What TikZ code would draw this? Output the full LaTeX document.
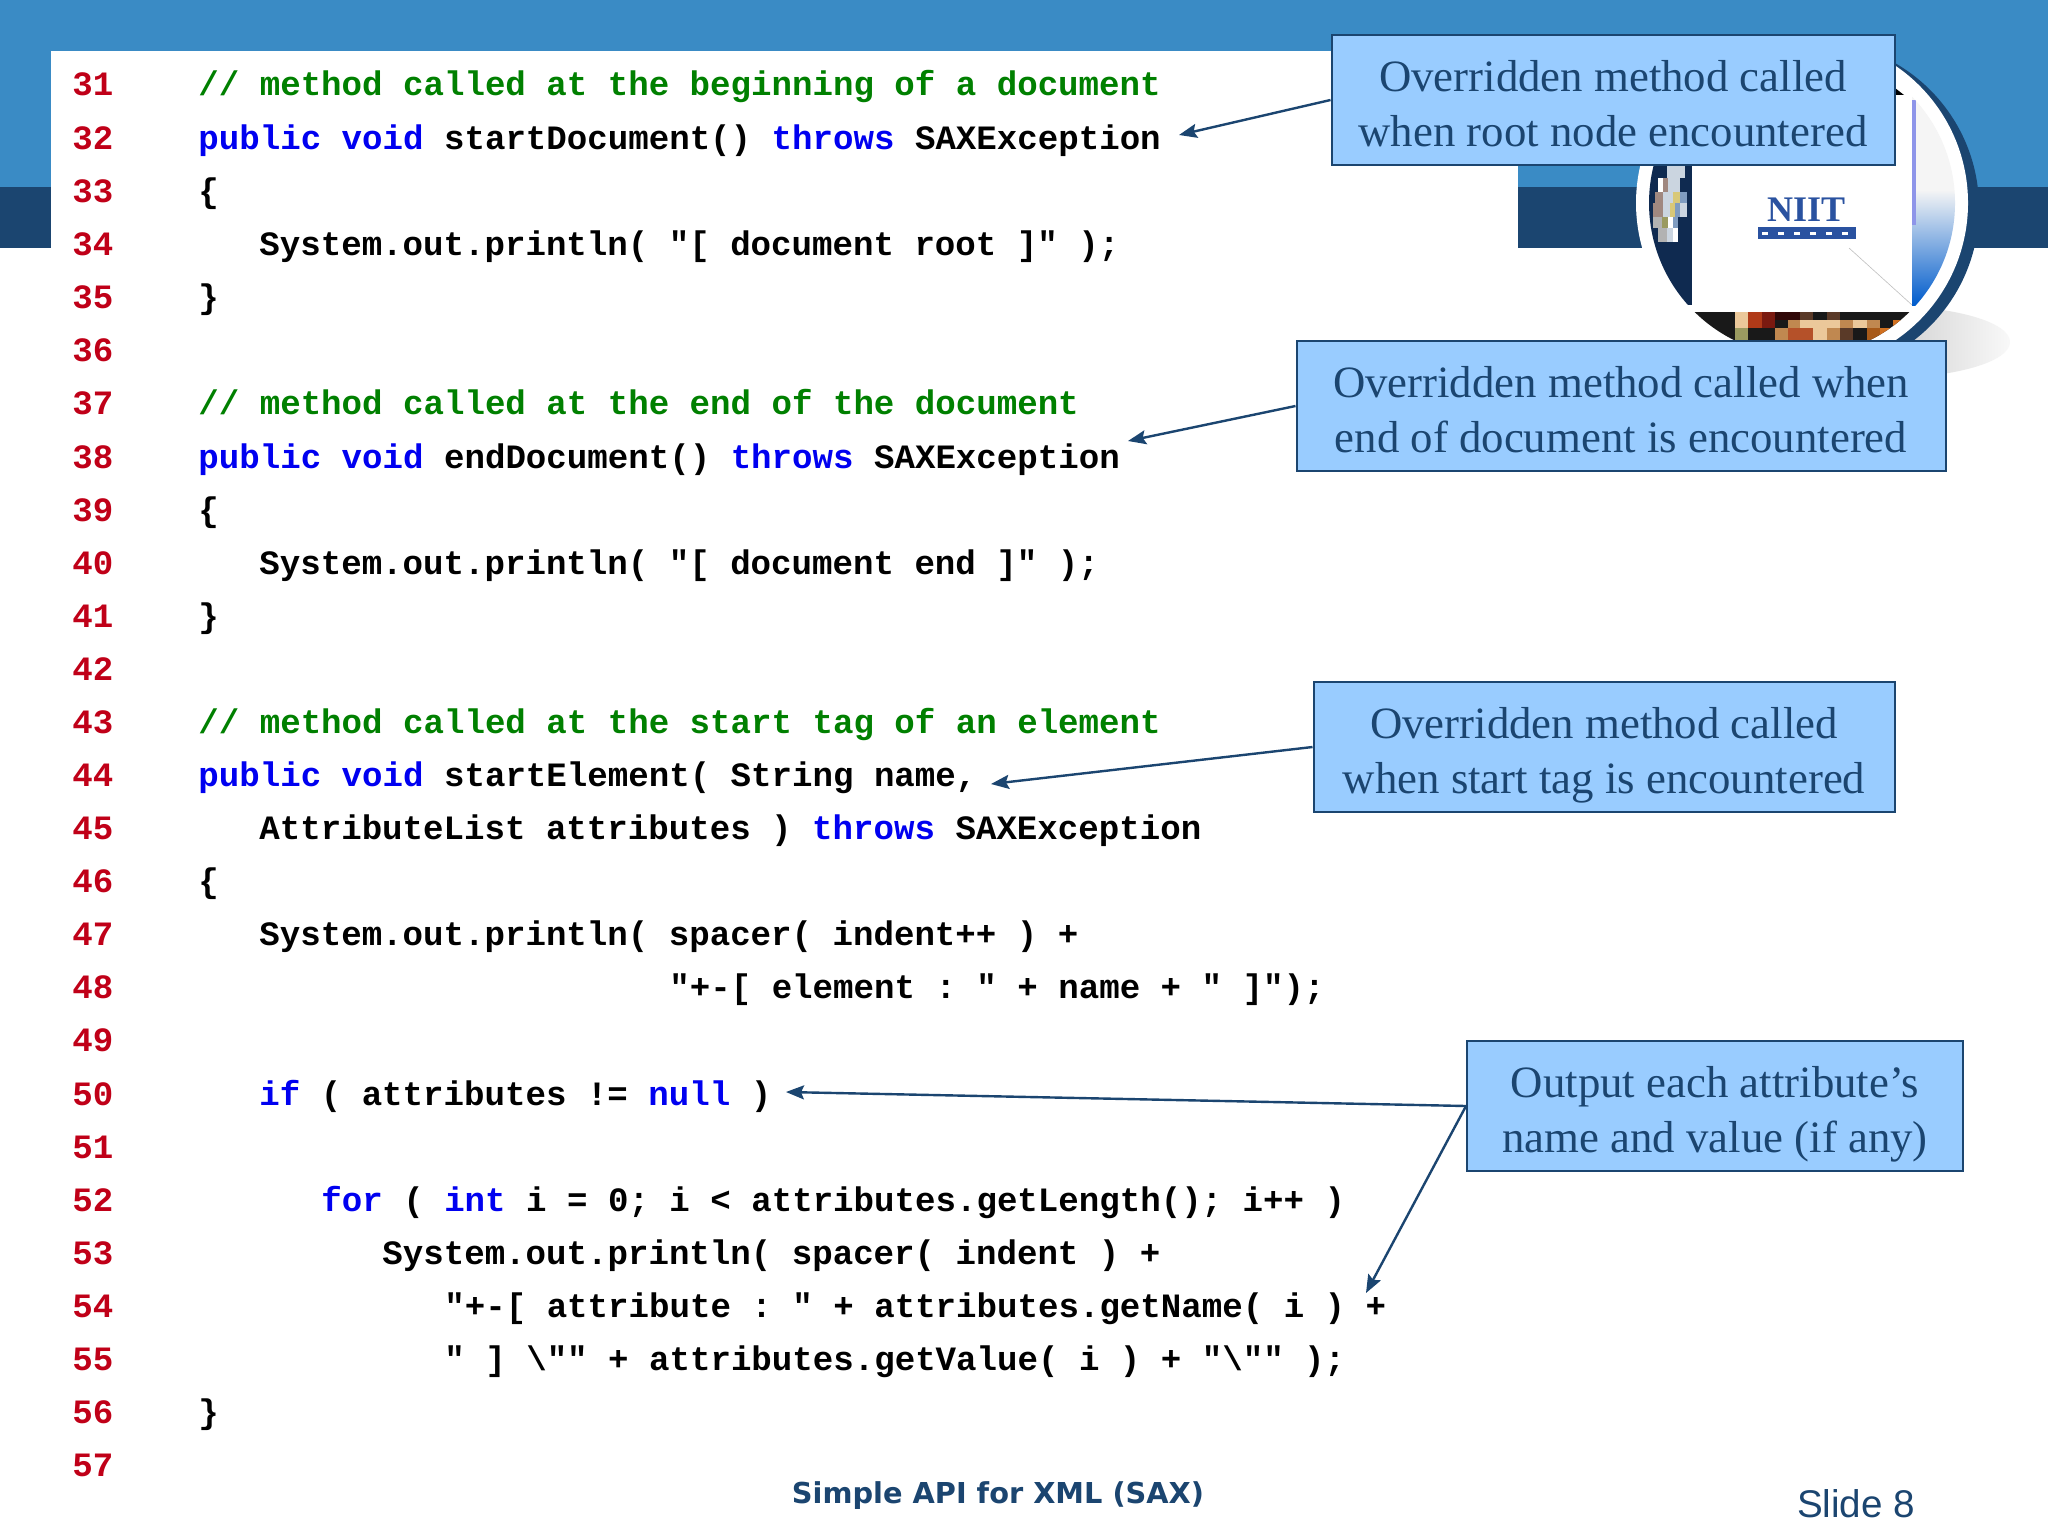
\documentclass[tikz,border=0pt]{standalone}
\usepackage{fontspec}
\setmainfont{Liberation Serif}
\setmonofont{Liberation Mono}
\newfontfamily\footfont{DejaVu Sans}
\newfontfamily\slidefont{Liberation Sans}
\usetikzlibrary{arrows.meta}
\definecolor{bandblue}{HTML}{3A8BC5}
\definecolor{navy}{HTML}{1B4570}
\definecolor{notefill}{HTML}{99CCFF}
\definecolor{numred}{HTML}{C00018}
\definecolor{kwblue}{HTML}{0000F0}
\definecolor{cmgreen}{HTML}{008000}
\definecolor{logoblue}{HTML}{2A52A0}
\definecolor{deepnavy}{HTML}{0F2A50}
\definecolor{pale}{HTML}{CBD5E0}
\definecolor{taupe}{HTML}{A08880}
\definecolor{khaki}{HTML}{D8C878}
\definecolor{olive}{HTML}{9A9A60}
\definecolor{steel}{HTML}{7F9CC0}
\definecolor{cream}{HTML}{EBC89A}
\definecolor{rust}{HTML}{B03A18}
\definecolor{darkred}{HTML}{7A1A10}
\definecolor{maroon}{HTML}{300808}
\definecolor{umber}{HTML}{5A3A28}
\definecolor{tan}{HTML}{C08850}
\definecolor{amber}{HTML}{D07020}
\newcommand{\kw}[1]{\textcolor{kwblue}{#1}}
\newcommand{\notetop}{\rule{0pt}{24pt}}
\newcommand{\noteend}{\rule[-5pt]{0pt}{5pt}}
\tikzset{
  linenum/.style={anchor=base west,inner sep=0pt,text=numred,font=\ttfamily\bfseries\fontsize{17.06}{20}\selectfont},
  codeline/.style={anchor=base west,inner sep=0pt,text=black,font=\ttfamily\bfseries\fontsize{17.06}{20}\selectfont},
  comment/.style={codeline,text=cmgreen},
  notebox/.style={draw=navy,line width=1pt,fill=notefill,text=navy,align=center,inner sep=0pt,
    font=\fontsize{22.4}{27.5}\selectfont},
  notearrow/.style={draw=navy,line width=1.2pt,-{Stealth[length=9pt,width=7pt,inset=1.5pt]}},
}
\begin{document}
\begin{tikzpicture}
\begin{scope}[x=.5pt,y=-.5pt]
\useasboundingbox (0,0) rectangle (2048,1536);
\fill[white] (0,0) rectangle (2048,1536);
\fill[bandblue] (0,0) rectangle (2048,187);
\fill[navy] (0,187) rectangle (2048,248);
\fill[white] (51,51) rectangle (1518,1536);
\shade[left color=gray!70,middle color=gray!40,right color=gray!5] (1885,342) ellipse [x radius=125,y radius=36];
\fill[navy] (1812,208) circle [radius=167];
\fill[white] (1802,203) circle [radius=166];
\begin{scope}
\clip (1802,203) circle [radius=153];
\fill[deepnavy] (1645,160) rectangle (1692,305);
\fill[white] (1692,50) rectangle (1912,305);
\fill[gray!8] (1912,50) rectangle (1960,190);
\shade[top color=gray!8,bottom color=blue!55!cyan!80!black] (1912,190) rectangle (1960,305);
\fill[pale!70!blue] (1912,100) rectangle (1916,225);
\fill[pale] (1667,165) rectangle (1685,178);
\fill[white] (1658,178) rectangle (1663,192);
\fill[taupe] (1663,178) rectangle (1668,192);
\fill[pale] (1668,178) rectangle (1680,192);
\fill[taupe] (1655,192) rectangle (1663,203);
\fill[pale] (1663,192) rectangle (1673,203);
\fill[khaki] (1673,192) rectangle (1680,203);
\fill[steel] (1680,192) rectangle (1687,203);
\fill[taupe] (1653,203) rectangle (1663,217);
\fill[pale] (1663,203) rectangle (1670,217);
\fill[khaki] (1670,203) rectangle (1675,217);
\fill[steel] (1675,203) rectangle (1680,217);
\fill[pale] (1680,203) rectangle (1687,217);
\fill[gray!60] (1653,217) rectangle (1662,228);
\fill[olive] (1662,217) rectangle (1668,228);
\fill[white] (1668,217) rectangle (1673,228);
\fill[steel] (1673,217) rectangle (1678,228);
\fill[gray!60] (1658,228) rectangle (1667,242);
\fill[pale] (1667,228) rectangle (1673,242);
\fill[white] (1673,228) rectangle (1678,242);
\fill[black!90] (1640,312) rectangle (1960,360);
\fill[maroon] (1775,312) rectangle (1800,320);
\fill[umber] (1800,312) rectangle (1813,320);
\fill[umber] (1827,312) rectangle (1840,320);
\fill[cream] (1735,312) rectangle (1748,328);
\fill[rust] (1748,312) rectangle (1762,328);
\fill[darkred] (1762,312) rectangle (1775,328);
\fill[tan] (1788,320) rectangle (1800,328);
\fill[cream] (1800,320) rectangle (1840,328);
\fill[tan] (1840,320) rectangle (1853,328);
\fill[cream] (1853,320) rectangle (1867,328);
\fill[tan] (1867,320) rectangle (1880,328);
\fill[amber] (1893,320) rectangle (1907,328);
\fill[olive] (1735,328) rectangle (1748,345);
\fill[tan] (1775,328) rectangle (1788,345);
\fill[rust!70!tan] (1788,328) rectangle (1813,345);
\fill[cream] (1813,328) rectangle (1827,345);
\fill[tan] (1827,328) rectangle (1840,345);
\fill[umber] (1840,328) rectangle (1853,345);
\fill[amber!80!black] (1867,328) rectangle (1880,345);
\fill[amber] (1880,328) rectangle (1893,345);
\end{scope}
\fill[black] (1895,88) -- (1904,95) -- (1895,95) -- cycle;
\draw[gray!50,line width=.3pt] (1849,248) -- (1912,305);
\node[anchor=center,inner sep=0pt,text=logoblue,font=\bfseries\fontsize{18}{18}\selectfont] (logo) at (1806,210) {NIIT};
\fill[logoblue] (1758,227) rectangle (1856,239);
\draw[white,line width=1.5pt,dash pattern=on 3pt off 5pt] (1762,233) -- (1852,233);
\node[linenum] (n31) at (72,96) {31};
\node[linenum] (n32) at (72,149) {32};
\node[linenum] (n33) at (72,202) {33};
\node[linenum] (n34) at (72,255) {34};
\node[linenum] (n35) at (72,308) {35};
\node[linenum] (n36) at (72,361) {36};
\node[linenum] (n37) at (72,414) {37};
\node[linenum] (n38) at (72,468) {38};
\node[linenum] (n39) at (72,521) {39};
\node[linenum] (n40) at (72,574) {40};
\node[linenum] (n41) at (72,627) {41};
\node[linenum] (n42) at (72,680) {42};
\node[linenum] (n43) at (72,733) {43};
\node[linenum] (n44) at (72,786) {44};
\node[linenum] (n45) at (72,839) {45};
\node[linenum] (n46) at (72,892) {46};
\node[linenum] (n47) at (72,945) {47};
\node[linenum] (n48) at (72,998) {48};
\node[linenum] (n49) at (72,1051) {49};
\node[linenum] (n50) at (72,1105) {50};
\node[linenum] (n51) at (72,1158) {51};
\node[linenum] (n52) at (72,1211) {52};
\node[linenum] (n53) at (72,1264) {53};
\node[linenum] (n54) at (72,1317) {54};
\node[linenum] (n55) at (72,1370) {55};
\node[linenum] (n56) at (72,1423) {56};
\node[linenum] (n57) at (72,1476) {57};
\node[comment] (c31) at (198,96) {// method called at the beginning of a document};
\node[codeline] (c32) at (198,149) {\kw{public} \kw{void} startDocument() \kw{throws} SAXException};
\node[codeline] (c33) at (198,202) {\{};
\node[codeline] (c34) at (259,255) {System.out.println( "[ document root ]" );};
\node[codeline] (c35) at (198,308) {\}};
\node[comment] (c37) at (198,414) {// method called at the end of the document};
\node[codeline] (c38) at (198,468) {\kw{public} \kw{void} endDocument() \kw{throws} SAXException};
\node[codeline] (c39) at (198,521) {\{};
\node[codeline] (c40) at (259,574) {System.out.println( "[ document end ]" );};
\node[codeline] (c41) at (198,627) {\}};
\node[comment] (c43) at (198,733) {// method called at the start tag of an element};
\node[codeline] (c44) at (198,786) {\kw{public} \kw{void} startElement( String name,};
\node[codeline] (c45) at (259,839) {AttributeList attributes ) \kw{throws} SAXException};
\node[codeline] (c46) at (198,892) {\{};
\node[codeline] (c47) at (259,945) {System.out.println( spacer( indent++ ) +};
\node[codeline] (c48) at (669,998) {"+-[ element : " + name + " ]");};
\node[codeline] (c50) at (259,1105) {\kw{if} ( attributes != \kw{null} )};
\node[codeline] (c52) at (321,1211) {\kw{for} ( \kw{int} i = 0; i < attributes.getLength(); i++ )};
\node[codeline] (c53) at (382,1264) {System.out.println( spacer( indent ) +};
\node[codeline] (c54) at (444,1317) {"+-[ attribute : " + attributes.getName( i ) +};
\node[codeline] (c55) at (444,1370) {" ] \textbackslash"" + attributes.getValue( i ) + "\textbackslash"" );};
\node[codeline] (c56) at (198,1423) {\}};
\node[notebox,minimum width=563pt/2,minimum height=130pt/2] (rootnote) at (1613,100) {\notetop Overridden method called\\when root node encountered\noteend};
\node[notebox,minimum width=649pt/2,minimum height=130pt/2] (endnote) at (1621,406) {\notetop Overridden method called when\\end of document is encountered\noteend};
\node[notebox,minimum width=581pt/2,minimum height=130pt/2] (startnote) at (1604,747) {\notetop Overridden method called\\when start tag is encountered\noteend};
\node[notebox,minimum width=496pt/2,minimum height=130pt/2] (attrnote) at (1715,1106) {\notetop Output each attribute’s\\name and value (if any)\noteend};
\coordinate (roottip) at (1179,135);
\coordinate (endtip) at (1128,441);
\coordinate (starttip) at (991,784);
\coordinate (iftip) at (786,1092);
\coordinate (plustip) at (1366,1293);
\draw[notearrow] (rootnote.west) -- (roottip);
\draw[notearrow] (endnote.west) -- (endtip);
\draw[notearrow] (startnote.west) -- (starttip);
\draw[notearrow] (attrnote.west) -- (iftip);
\draw[notearrow] (attrnote.west) -- (plustip);
\node[text=navy,inner sep=0pt,font=\footfont\bfseries\fontsize{14.4}{16}\selectfont] (foot) at (998,1496) {Simple API for XML (SAX)};
\node[text=navy,inner sep=0pt,font=\slidefont\fontsize{19.3}{22}\selectfont] (slide) at (1856,1504) {Slide 8};
\end{scope}
\end{tikzpicture}
\end{document}
